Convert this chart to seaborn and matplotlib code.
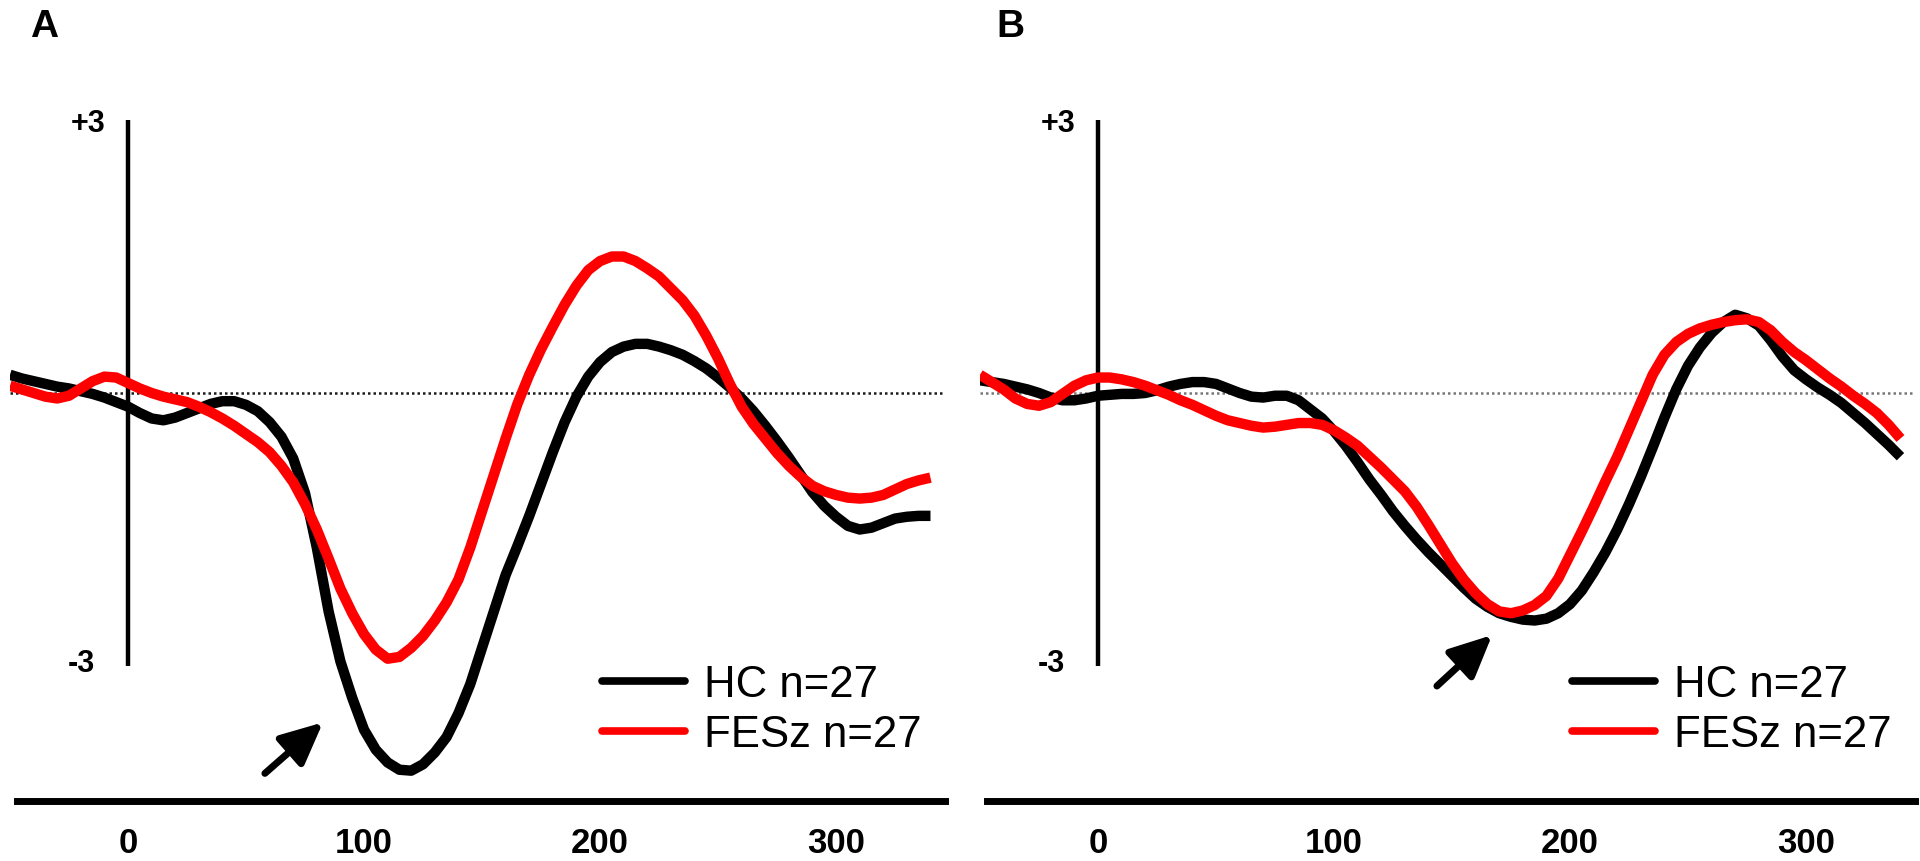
import pandas as pd
import matplotlib
matplotlib.use("Agg")
import matplotlib.pyplot as plt
from matplotlib.lines import Line2D
import seaborn as sns

# ERP sample times (ms), 5 ms steps
times = [-50, -45, -40, -35, -30, -25, -20, -15, -10, -5,
         0, 5, 10, 15, 20, 25, 30, 35, 40, 45,
         50, 55, 60, 65, 70, 75, 80, 85, 90, 95,
         100, 105, 110, 115, 120, 125, 130, 135, 140, 145,
         150, 155, 160, 165, 170, 175, 180, 185, 190, 195,
         200, 205, 210, 215, 220, 225, 230, 235, 240, 245,
         250, 255, 260, 265, 270, 275, 280, 285, 290, 295,
         300, 305, 310, 315, 320, 325, 330, 335, 340]

# Panel A amplitudes (uV)
a_hc = [0.20, 0.16, 0.13, 0.10, 0.07, 0.05, 0.02, -0.01, -0.05, -0.10,
        -0.15, -0.22, -0.28, -0.30, -0.27, -0.22, -0.17, -0.12, -0.09, -0.09,
        -0.13, -0.20, -0.32, -0.48, -0.72, -1.10, -1.70, -2.40, -2.95, -3.35,
        -3.70, -3.92, -4.06, -4.14, -4.15, -4.08, -3.95, -3.78, -3.52, -3.20,
        -2.80, -2.40, -2.00, -1.68, -1.35, -1.00, -0.65, -0.32, -0.04, 0.18,
        0.34, 0.45, 0.51, 0.54, 0.54, 0.51, 0.47, 0.42, 0.35, 0.27,
        0.17, 0.06, -0.06, -0.20, -0.36, -0.53, -0.71, -0.90, -1.09, -1.24,
        -1.36, -1.46, -1.50, -1.48, -1.43, -1.38, -1.36, -1.35, -1.35]
a_fesz = [0.08, 0.04, 0.00, -0.04, -0.06, -0.03, 0.05, 0.13, 0.18, 0.17,
          0.11, 0.05, 0.00, -0.04, -0.07, -0.10, -0.15, -0.21, -0.28, -0.36,
          -0.45, -0.54, -0.65, -0.80, -0.98, -1.22, -1.50, -1.82, -2.15, -2.42,
          -2.65, -2.82, -2.92, -2.90, -2.80, -2.67, -2.50, -2.30, -2.05, -1.70,
          -1.30, -0.90, -0.50, -0.12, 0.20, 0.48, 0.73, 0.97, 1.18, 1.35,
          1.45, 1.50, 1.50, 1.45, 1.37, 1.28, 1.15, 1.02, 0.85, 0.63,
          0.38, 0.10, -0.15, -0.34, -0.50, -0.66, -0.80, -0.92, -1.02, -1.08,
          -1.12, -1.15, -1.16, -1.15, -1.12, -1.06, -1.00, -0.96, -0.93]

# Panel B amplitudes (uV)
b_hc = [0.14, 0.12, 0.10, 0.07, 0.04, 0.00, -0.05, -0.08, -0.08, -0.06,
        -0.03, -0.02, -0.01, -0.01, 0.00, 0.03, 0.07, 0.10, 0.12, 0.12,
        0.10, 0.05, 0.00, -0.04, -0.05, -0.03, -0.03, -0.08, -0.18, -0.28,
        -0.42, -0.58, -0.76, -0.95, -1.12, -1.30, -1.46, -1.61, -1.75, -1.88,
        -2.01, -2.14, -2.26, -2.35, -2.42, -2.46, -2.49, -2.50, -2.48, -2.42,
        -2.32, -2.17, -1.97, -1.75, -1.50, -1.22, -0.92, -0.60, -0.27, 0.04,
        0.30, 0.50, 0.66, 0.78, 0.86, 0.82, 0.74, 0.58, 0.40, 0.25,
        0.15, 0.06, -0.02, -0.11, -0.22, -0.33, -0.45, -0.57, -0.70]
b_fesz = [0.20, 0.12, 0.04, -0.06, -0.12, -0.14, -0.10, -0.01, 0.08, 0.14,
          0.17, 0.17, 0.15, 0.12, 0.08, 0.03, -0.02, -0.08, -0.13, -0.19,
          -0.25, -0.30, -0.33, -0.36, -0.38, -0.37, -0.35, -0.33, -0.33, -0.35,
          -0.41, -0.49, -0.58, -0.70, -0.82, -0.95, -1.08, -1.25, -1.45, -1.66,
          -1.87, -2.05, -2.20, -2.32, -2.40, -2.42, -2.39, -2.33, -2.23, -2.04,
          -1.78, -1.52, -1.25, -0.97, -0.70, -0.40, -0.10, 0.20, 0.42, 0.56,
          0.65, 0.71, 0.75, 0.78, 0.80, 0.81, 0.78, 0.69, 0.56, 0.45,
          0.36, 0.26, 0.16, 0.07, -0.03, -0.12, -0.22, -0.35, -0.50]

groups = ["HC n=27", "FESz n=27"]
xticks = [0, 100, 200, 300]

sns.set_theme(style="white")
plt.rcParams["font.family"] = ["Liberation Sans", "DejaVu Sans"]
plt.rcParams["text.color"] = "black"

fig = plt.figure(figsize=(19.2, 8.62), dpi=100)

panels = [
    # letter, hc, fesz, axes left, letter x, zero-line colour, arrow tip, arrow tail
    ("A", a_hc, a_fesz, 0.0052, 0.0156, "#1a1a1a", (82.6, -3.62), (58, -4.18)),
    ("B", b_hc, b_fesz, 0.5104, 0.519, "#777777", (167, -2.66), (143.6, -3.22)),
]

for letter, hc, fesz, left, lx, zcol, tip, tail in panels:
    ax = fig.add_axes([left, 0.0573, 0.4868, 0.834])
    n = len(times)
    df = pd.DataFrame({
        "time": times + times,
        "amp": hc + fesz,
        "group": [groups[0]] * n + [groups[1]] * n,
    })
    ax.axhline(0, color=zcol, lw=1.8, dashes=(1, 1.2), zorder=1)
    ax.vlines(0, -3, 3, color="black", lw=3.2, zorder=1)
    sns.lineplot(data=df, x="time", y="amp", hue="group", hue_order=groups,
                 palette={groups[0]: "black", groups[1]: "#ff0000"},
                 linewidth=7.5, legend=False, sort=False, ax=ax, zorder=3,
                 solid_joinstyle="round", solid_capstyle="butt")

    ax.set_xlim(-50, 346)
    ax.set_ylim(-4.6, 3.3)
    for side in ["left", "top", "right"]:
        ax.spines[side].set_visible(False)
    ax.spines["bottom"].set_position(("data", -4.48))
    ax.spines["bottom"].set_linewidth(5)
    ax.spines["bottom"].set_color("black")
    ax.spines["bottom"].set_bounds(-47, 346)
    ax.set_xticks(xticks)
    ax.set_xticklabels([str(t) for t in xticks], fontsize=25, fontweight="bold")
    ax.tick_params(axis="x", length=0, pad=18, colors="black")
    ax.set_yticks([])
    ax.set_xlabel("")
    ax.set_ylabel("")
    ax.patch.set_alpha(0)

    ax.annotate("+3", xy=(0, 3), xytext=(-22, -3), textcoords="offset pixels",
                ha="right", va="center", fontsize=22, fontweight="bold")
    ax.annotate("-3", xy=(0, -3), xytext=(-33, 3), textcoords="offset pixels",
                ha="right", va="center", fontsize=22, fontweight="bold")

    ax.annotate("", xy=tip, xytext=tail,
                arrowprops=dict(arrowstyle="-|>,head_length=0.85,head_width=0.4",
                                lw=5, color="black", mutation_scale=30,
                                shrinkA=0, shrinkB=0))

    handles = [Line2D([], [], color="black", lw=5.5),
               Line2D([], [], color="#ff0000", lw=5.5)]
    ax.legend(handles, groups, loc="upper left", bbox_to_anchor=(0.633, 0.205),
              frameon=False, fontsize=31.5, handlelength=1.9, handletextpad=0.45,
              labelspacing=0.2, borderpad=0, borderaxespad=0)

    fig.text(lx, 0.969, letter, fontsize=28, fontweight="bold",
             ha="left", va="center")

fig.savefig("out.png", dpi=100)
